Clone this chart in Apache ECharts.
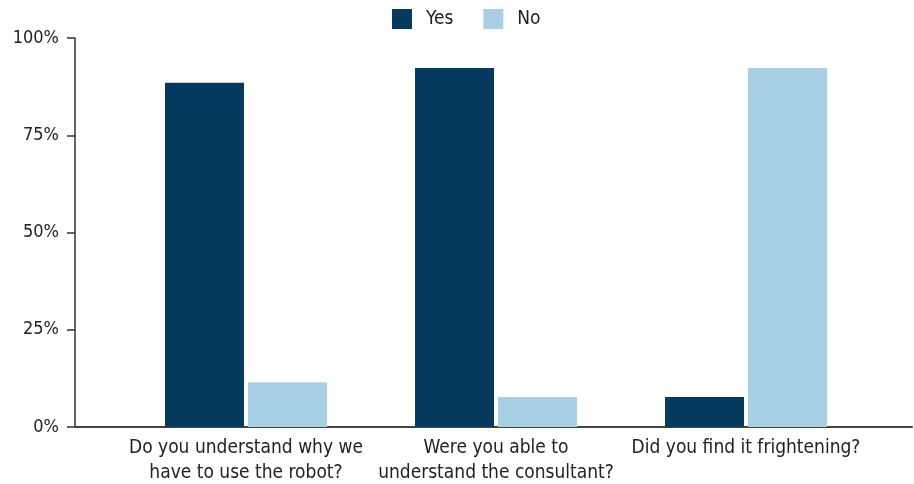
<!DOCTYPE html>
<html><head><meta charset="utf-8">
<script src="https://cdn.jsdelivr.net/npm/echarts@6/dist/echarts.min.js"></script>
<style>html,body{margin:0;padding:0;background:#fff}#c{width:914px;height:484px}</style>
</head><body><div id="c"></div>
<script>
const categories = ['Do you understand why we\nhave to use the robot?', 'Were you able to\nunderstand the consultant?', 'Did you find it frightening?'];
const yesValues = [88.5, 92.3, 7.7];
const noValues = [11.5, 7.7, 92.3];
const yTicks = [0, 25, 50, 75, 100];
const seriesNames = ['Yes', 'No'];

const FONT = '"Liberation Sans Narrow", "DejaVu Sans Condensed", "Open Sans", sans-serif';
const chart = echarts.init(document.getElementById('c'));
chart.setOption({
  animation: false,
  textStyle: { fontFamily: FONT },
  legend: {
    data: seriesNames, top: 9, left: 392, itemWidth: 20, itemHeight: 20, itemGap: 30, padding: 0,
    textStyle: { fontFamily: FONT, fontSize: 19, color: '#222', padding: [0, 0, 0, 9] }, icon: 'rect'
  },
  grid: [
    { left: 75, right: 2, top: 38, bottom: 57, outerBoundsMode: 'none', containLabel: false },
    { left: 121, right: 43, top: 38, bottom: 57, outerBoundsMode: 'none', containLabel: false }
  ],
  xAxis: [
    { gridIndex: 0, type: 'category', data: [''], axisLine: { lineStyle: { color: '#444', width: 2 } }, axisTick: { show: false }, axisLabel: { show: false } },
    { gridIndex: 1, type: 'category', data: categories, axisLine: { show: false }, axisTick: { show: false },
      axisLabel: { interval: 0, fontFamily: FONT, fontSize: 19, color: '#222', lineHeight: 25, margin: 9 } }
  ],
  yAxis: [
    { gridIndex: 0, type: 'value', min: 0, max: 100, interval: 25,
      axisLine: { show: true, lineStyle: { color: '#333', width: 1.5 } },
      axisTick: { show: true, length: 8, lineStyle: { color: '#333', width: 1.5 } },
      splitLine: { show: false },
      axisLabel: { formatter: v => yTicks.includes(v) ? v + '%' : '', fontFamily: FONT, fontSize: 18, color: '#222', margin: 16 } },
    { gridIndex: 1, type: 'value', min: 0, max: 100, interval: 25, show: false }
  ],
  series: [
    { name: 'Yes', type: 'bar', xAxisIndex: 1, yAxisIndex: 1, data: yesValues, barWidth: 79, barGap: '5%', itemStyle: { color: '#053a5e' } },
    { name: 'No', type: 'bar', xAxisIndex: 1, yAxisIndex: 1, data: noValues, barWidth: 79, barGap: '5%', itemStyle: { color: '#a8d0e4' } }
  ]
});
</script></body></html>
